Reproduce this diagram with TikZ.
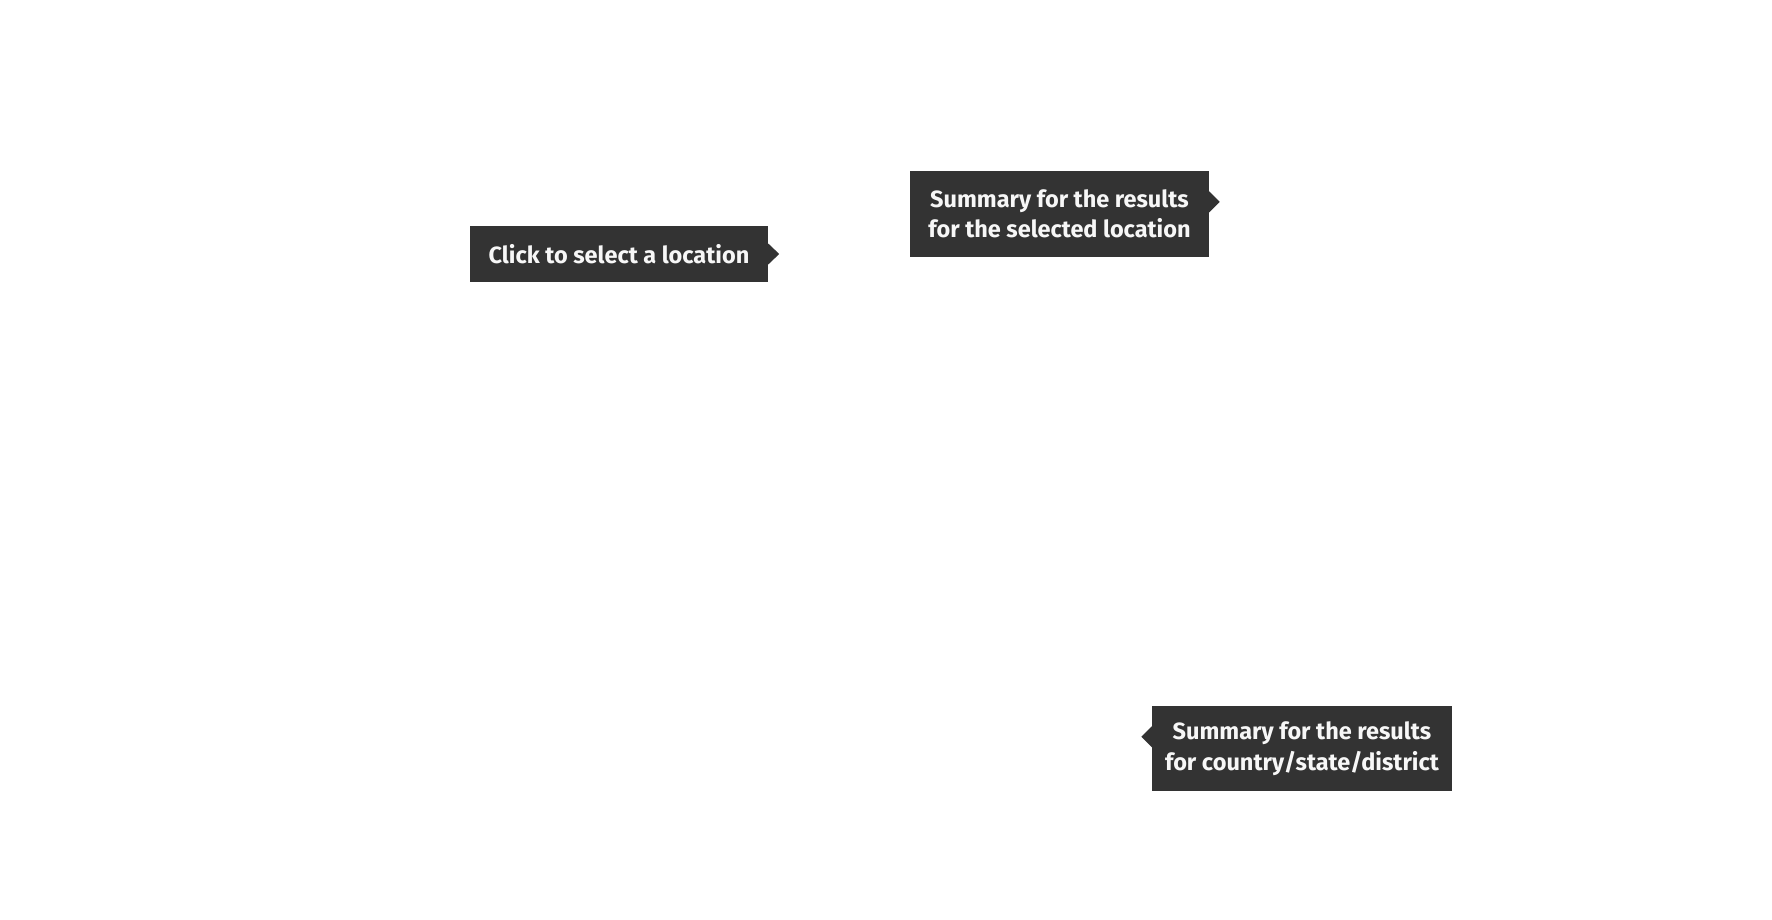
\documentclass[tikz,border=0pt]{standalone}
\usepackage{fontspec}
\setmainfont{Fira Sans}
\definecolor{boxgray}{HTML}{333333}
\definecolor{tipwhite}{HTML}{F7F7F7}
\begin{document}
\begin{tikzpicture}[x=1pt,y=-1pt,
  tipbox/.style={fill=boxgray, text=tipwhite, align=center, inner sep=0pt,
    font=\bfseries\fontsize{23.5}{30.5}\selectfont},
  pointer/.style={fill=boxgray}]
\useasboundingbox (0,0) rectangle (1772,920);
\fill[white] (0,0) rectangle (1772,920);
% box 1
\node[tipbox, minimum width=298pt, minimum height=55.5pt] (b1) at (619,254)
  {Click to select a location};
\fill[pointer] ([yshift=10.5pt]b1.east) -- ([xshift=11pt]b1.east) -- ([yshift=-10.5pt]b1.east) -- cycle;
% box 2
\node[tipbox, minimum width=299pt, minimum height=86pt] (b2) at (1059.5,214)
  {Summary for the results\\for the selected location};
\fill[pointer] ([yshift=-20.5pt]b2.north east) -- ([xshift=10.5pt,yshift=-31pt]b2.north east) -- ([yshift=-41.5pt]b2.north east) -- cycle;
% box 3
\node[tipbox, minimum width=300pt, minimum height=85pt] (b3) at (1302,748.5)
  {Summary for the results\\for country/state/district};
\fill[pointer] ([yshift=-20.5pt]b3.north west) -- ([xshift=-10.5pt,yshift=-31pt]b3.north west) -- ([yshift=-41.5pt]b3.north west) -- cycle;
\end{tikzpicture}
\end{document}
